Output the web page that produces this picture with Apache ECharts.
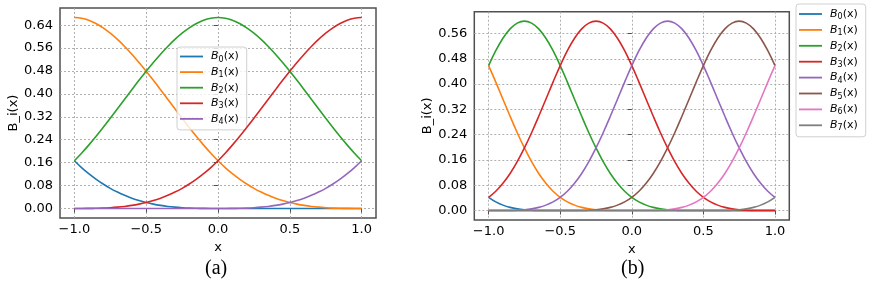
<!DOCTYPE html>
<html>
<head>
<meta charset="utf-8">
<script src="https://cdn.jsdelivr.net/npm/echarts@6/dist/echarts.min.js"></script>
<style>html,body{margin:0;padding:0;background:#fff;}#c{width:872px;height:296px;}</style>
</head>
<body>
<div id="c"></div>
<script>
// sample positions along x (shared by both panels)
var xs = [-1.00,-0.95,-0.90,-0.85,-0.80,-0.75,-0.70,-0.65,-0.60,-0.55,-0.50,-0.45,-0.40,-0.35,-0.30,-0.25,-0.20,-0.15,-0.10,-0.05,0.00,0.05,0.10,0.15,0.20,0.25,0.30,0.35,0.40,0.45,0.50,0.55,0.60,0.65,0.70,0.75,0.80,0.85,0.90,0.95,1.00];

// panel (a): 5 basis functions
var a_B0 = [0.1667,0.1429,0.1215,0.1024,0.0853,0.0703,0.0572,0.0458,0.0360,0.0277,0.0208,0.0152,0.0107,0.0071,0.0045,0.0026,0.0013,0.0006,0.0002,0.0000,0, 0,0,0,0,0,0,0,0,0,0, 0,0,0,0,0,0,0,0,0,0];
var a_B1 = [0.6667,0.6642,0.6572,0.6459,0.6307,0.6120,0.5902,0.5656,0.5387,0.5097,0.4792,0.4474,0.4147,0.3815,0.3482,0.3151,0.2827,0.2512,0.2212,0.1929,0.1667,0.1429,0.1215,0.1024,0.0853,0.0703,0.0572,0.0458,0.0360,0.0277,0.0208,0.0152,0.0107,0.0071,0.0045,0.0026,0.0013,0.0006,0.0002,0.0000,0];
var a_B2 = [0.1667,0.1929,0.2212,0.2512,0.2827,0.3151,0.3482,0.3815,0.4147,0.4474,0.4792,0.5097,0.5387,0.5656,0.5902,0.6120,0.6307,0.6459,0.6572,0.6642,0.6667,0.6642,0.6572,0.6459,0.6307,0.6120,0.5902,0.5656,0.5387,0.5097,0.4792,0.4474,0.4147,0.3815,0.3482,0.3151,0.2827,0.2512,0.2212,0.1929,0.1667];
var a_B3 = [0,0.0000,0.0002,0.0006,0.0013,0.0026,0.0045,0.0071,0.0107,0.0152,0.0208,0.0277,0.0360,0.0458,0.0572,0.0703,0.0853,0.1024,0.1215,0.1429,0.1667,0.1929,0.2212,0.2512,0.2827,0.3151,0.3482,0.3815,0.4147,0.4474,0.4792,0.5097,0.5387,0.5656,0.5902,0.6120,0.6307,0.6459,0.6572,0.6642,0.6667];
var a_B4 = [0,0,0,0,0,0,0,0,0,0, 0,0,0,0,0,0,0,0,0,0, 0,0.0000,0.0002,0.0006,0.0013,0.0026,0.0045,0.0071,0.0107,0.0152,0.0208,0.0277,0.0360,0.0458,0.0572,0.0703,0.0853,0.1024,0.1215,0.1429,0.1667];

// panel (b): 8 basis functions
var b_B0 = [0.0417,0.0273,0.0171,0.0100,0.0054,0.0026,0.0011,0.0003,0.0001,0.0000,0, 0,0,0,0,0,0,0,0,0,0, 0,0,0,0,0,0,0,0,0,0, 0,0,0,0,0,0,0,0,0,0];
var b_B1 = [0.4583,0.4063,0.3521,0.2980,0.2461,0.1979,0.1547,0.1173,0.0861,0.0610,0.0417,0.0273,0.0171,0.0100,0.0054,0.0026,0.0011,0.0003,0.0001,0.0000,0, 0,0,0,0,0,0,0,0,0,0, 0,0,0,0,0,0,0,0,0,0];
var b_B2 = [0.4583,0.5054,0.5447,0.5744,0.5927,0.5990,0.5927,0.5744,0.5447,0.5054,0.4583,0.4063,0.3521,0.2980,0.2461,0.1979,0.1547,0.1173,0.0861,0.0610,0.0417,0.0273,0.0171,0.0100,0.0054,0.0026,0.0011,0.0003,0.0001,0.0000,0, 0,0,0,0,0,0,0,0,0,0];
var b_B3 = [0.0417,0.0610,0.0861,0.1173,0.1547,0.1979,0.2461,0.2980,0.3521,0.4063,0.4583,0.5054,0.5447,0.5744,0.5927,0.5990,0.5927,0.5744,0.5447,0.5054,0.4583,0.4063,0.3521,0.2980,0.2461,0.1979,0.1547,0.1173,0.0861,0.0610,0.0417,0.0273,0.0171,0.0100,0.0054,0.0026,0.0011,0.0003,0.0001,0.0000,0];
var b_B4 = [0,0.0000,0.0001,0.0003,0.0011,0.0026,0.0054,0.0100,0.0171,0.0273,0.0417,0.0610,0.0861,0.1173,0.1547,0.1979,0.2461,0.2980,0.3521,0.4063,0.4583,0.5054,0.5447,0.5744,0.5927,0.5990,0.5927,0.5744,0.5447,0.5054,0.4583,0.4063,0.3521,0.2980,0.2461,0.1979,0.1547,0.1173,0.0861,0.0610,0.0417];
var b_B5 = [0,0,0,0,0,0,0,0,0,0, 0,0.0000,0.0001,0.0003,0.0011,0.0026,0.0054,0.0100,0.0171,0.0273,0.0417,0.0610,0.0861,0.1173,0.1547,0.1979,0.2461,0.2980,0.3521,0.4063,0.4583,0.5054,0.5447,0.5744,0.5927,0.5990,0.5927,0.5744,0.5447,0.5054,0.4583];
var b_B6 = [0,0,0,0,0,0,0,0,0,0, 0,0,0,0,0,0,0,0,0,0, 0,0.0000,0.0001,0.0003,0.0011,0.0026,0.0054,0.0100,0.0171,0.0273,0.0417,0.0610,0.0861,0.1173,0.1547,0.1979,0.2461,0.2980,0.3521,0.4063,0.4583];
var b_B7 = [0,0,0,0,0,0,0,0,0,0, 0,0,0,0,0,0,0,0,0,0, 0,0,0,0,0,0,0,0,0,0, 0,0.0000,0.0001,0.0003,0.0011,0.0026,0.0054,0.0100,0.0171,0.0273,0.0417];

// tick values and labels
var xTicks = [-1.0, -0.5, 0.0, 0.5, 1.0];
var xTickLabels = ['\u22121.0', '\u22120.5', '0.0', '0.5', '1.0'];
var yTicksA = [0.00, 0.08, 0.16, 0.24, 0.32, 0.40, 0.48, 0.56, 0.64];
var yTicksB = [0.00, 0.08, 0.16, 0.24, 0.32, 0.40, 0.48, 0.56];

var colors = ['#1f77b4','#ff7f0e','#2ca02c','#d62728','#9467bd','#8c564b','#e377c2','#7f7f7f'];
var seriesA = [a_B0, a_B1, a_B2, a_B3, a_B4];
var seriesB = [b_B0, b_B1, b_B2, b_B3, b_B4, b_B5, b_B6, b_B7];

[].concat(seriesA, seriesB).forEach(function (arr, k) {
  if (arr.length !== xs.length) throw new Error('length mismatch in series ' + k + ': ' + arr.length);
});

var FONT = 'DejaVu Sans';
var frameColor = '#505050';
var gridLine = { show: true, lineStyle: { color: '#a8a8a8', width: 0.9, type: [2, 2] } };

function xAxisCfg(gi, gap) {
  return {
    type: 'value', gridIndex: gi, min: -1.1, max: 1.1,
    name: 'x', nameLocation: 'middle', nameGap: gap,
    nameTextStyle: { fontFamily: FONT, fontSize: 13, color: '#000' },
    axisLine: { show: false },
    axisTick: { show: true, length: 4, lineStyle: { color: frameColor, width: 1 }, customValues: xTicks },
    axisLabel: {
      customValues: xTicks, margin: 5, fontFamily: FONT, fontSize: 13, color: '#000',
      formatter: function (v) {
        for (var i = 0; i < xTicks.length; i++) if (Math.abs(xTicks[i] - v) < 1e-9) return xTickLabels[i];
        return '';
      }
    },
    splitLine: gridLine
  };
}
function yAxisCfg(gi, min, max, ticks, gap) {
  return {
    type: 'value', gridIndex: gi, min: min, max: max,
    name: 'B_i(x)', nameLocation: 'middle', nameGap: gap,
    nameTextStyle: { fontFamily: FONT, fontSize: 13, color: '#000' },
    axisLine: { show: false },
    axisTick: { show: true, length: 4, lineStyle: { color: frameColor, width: 1 }, customValues: ticks },
    axisLabel: {
      customValues: ticks, margin: 7, fontFamily: FONT, fontSize: 13, color: '#000',
      formatter: function (v) { return v.toFixed(2); }
    },
    splitLine: gridLine
  };
}

var series = [];
seriesA.forEach(function (arr, k) {
  series.push({
    name: 'a' + k, type: 'line', xAxisIndex: 0, yAxisIndex: 0,
    data: xs.map(function (x, i) { return [x, arr[i]]; }),
    showSymbol: false, symbol: 'none', smooth: 0.4, clip: true,
    lineStyle: { color: colors[k], width: 1.6 }, itemStyle: { color: colors[k] },
    z: 2 + k
  });
});
seriesB.forEach(function (arr, k) {
  series.push({
    name: 'b' + k, type: 'line', xAxisIndex: 1, yAxisIndex: 1,
    data: xs.map(function (x, i) { return [x, arr[i]]; }),
    showSymbol: false, symbol: 'none', smooth: 0.4, clip: true,
    lineStyle: { color: colors[k], width: 1.6 }, itemStyle: { color: colors[k] },
    z: 2 + k
  });
});

var legendRich = {
  p: { width: 3, fontSize: 11, lineHeight: 14 },
  i: { fontFamily: FONT, fontStyle: 'italic', fontSize: 11, lineHeight: 14, color: '#000' },
  s: { fontFamily: FONT, fontSize: 8, lineHeight: 14, verticalAlign: 'bottom', color: '#000' },
  t: { fontFamily: FONT, fontSize: 11, lineHeight: 14, color: '#000' }
};
function legendFmt(name) {
  return '{p| }{i|B}{s|' + name.slice(1) + '}{t|(x)}';
}

var option = {
  animation: false,
  backgroundColor: '#fff',
  grid: [
    { left: 60, top: 8, width: 316, height: 210, show: true, borderColor: frameColor, borderWidth: 1.5, backgroundColor: 'transparent', containLabel: false },
    { left: 474.3, top: 11.7, width: 315, height: 208.3, show: true, borderColor: frameColor, borderWidth: 1.5, backgroundColor: 'transparent', containLabel: false }
  ],
  xAxis: [ xAxisCfg(0, 23), xAxisCfg(1, 22) ],
  yAxis: [ yAxisCfg(0, -0.03333, 0.7, yTicksA, 39), yAxisCfg(1, -0.02995, 0.62885, yTicksB, 39) ],
  legend: [
    {
      data: ['a0','a1','a2','a3','a4'], orient: 'vertical', left: 177, top: 47,
      icon: 'rect', itemWidth: 23, itemHeight: 1.8, itemGap: 3.1, padding: [4, 8, 4, 3],
      backgroundColor: 'rgba(255,255,255,0.8)', borderColor: '#d0d0d0', borderWidth: 1, borderRadius: 3,
      formatter: legendFmt, textStyle: { fontFamily: FONT, fontSize: 11, color: '#000', rich: legendRich },
      selectedMode: false
    },
    {
      data: ['b0','b1','b2','b3','b4','b5','b6','b7'], orient: 'vertical', left: 796, top: 4,
      icon: 'rect', itemWidth: 23, itemHeight: 1.8, itemGap: 3.4, padding: [4.5, 8, 4.5, 3],
      backgroundColor: 'rgba(255,255,255,0.8)', borderColor: '#d0d0d0', borderWidth: 1, borderRadius: 3,
      formatter: legendFmt, textStyle: { fontFamily: FONT, fontSize: 11, color: '#000', rich: legendRich },
      selectedMode: false
    }
  ],
  graphic: [
    { type: 'text', left: 218 - 13, top: 259, style: { text: '(a)', font: '20px "Liberation Serif"', fill: '#000' } },
    { type: 'text', left: 634 - 13, top: 259, style: { text: '(b)', font: '20px "Liberation Serif"', fill: '#000' } }
  ],
  series: series
};

var chart = echarts.init(document.getElementById('c'), null, { renderer: 'canvas' });
chart.setOption(option);
</script>
</body>
</html>
